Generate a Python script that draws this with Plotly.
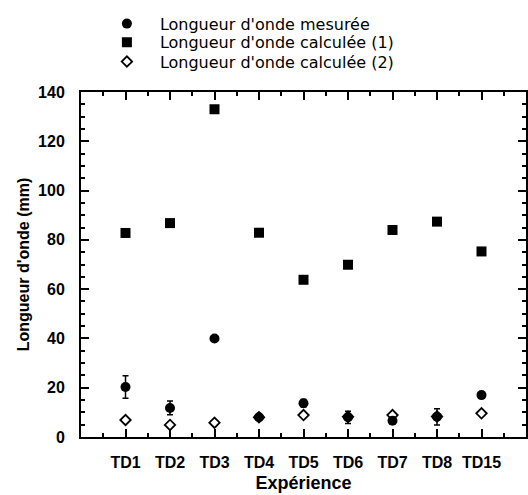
import plotly.graph_objects as go

categories = ["TD1", "TD2", "TD3", "TD4", "TD5", "TD6", "TD7", "TD8", "TD15"]
mesuree = [20.3, 11.8, 40.0, 8.0, 13.7, 8.0, 6.6, 8.2, 17.0]
mesuree_err = [4.6, 2.8, 0.0, 0.5, 1.5, 2.5, 0.5, 3.3, 0.5]
calc1 = [82.8, 86.8, 133.0, 82.9, 63.8, 69.9, 84.0, 87.4, 75.3]
calc1_err = [0.0, 0.0, 0.0, 0.0, 0.0, 1.2, 0.0, 1.2, 0.0]
calc2 = [6.9, 4.9, 5.8, 8.0, 8.9, 8.2, 8.9, 8.3, 9.6]

xpos = list(range(1, len(categories) + 1))
minor_x = [p - 0.5 for p in xpos] + [xpos[-1] + 0.5]

fig = go.Figure()
fig.add_trace(go.Scatter(
    x=xpos, y=mesuree, mode="markers", name="Longueur d'onde mesurée",
    marker=dict(symbol="circle", size=10, color="black"),
    error_y=dict(type="data", array=mesuree_err, color="black", thickness=1.5, width=3),
    legend="legend",
))
fig.add_trace(go.Scatter(
    x=xpos, y=calc1, mode="markers", name="Longueur d'onde calculée (1)",
    marker=dict(symbol="square", size=10, color="black"),
    error_y=dict(type="data", array=calc1_err, color="black", thickness=1.5, width=3),
    legend="legend2",
))
fig.add_trace(go.Scatter(
    x=xpos, y=calc2, mode="markers", name="Longueur d'onde calculée (2)",
    marker=dict(symbol="diamond-open", size=8, color="black", line=dict(width=1.8)),
    legend="legend3",
))

bold = dict(family="Liberation Sans, Arial", color="black", weight="bold")

axis_common = dict(
    showline=True, linecolor="black", linewidth=2, mirror="ticks",
    ticks="inside", tickcolor="black", tickwidth=2, ticklen=8,
    showgrid=False, zeroline=False,
    tickfont=dict(size=16, **bold),
)

fig.update_xaxes(
    **axis_common,
    range=[0, len(categories) + 1],
    tickmode="array", tickvals=xpos, ticktext=categories,
    ticklabelstandoff=10,
    minor=dict(tickmode="array", tickvals=minor_x, ticks="inside", ticklen=4,
               tickwidth=2, tickcolor="black", showgrid=False),
    title=dict(text="Expérience", standoff=6, font=dict(size=18, **bold)),
)
fig.update_yaxes(
    **axis_common,
    range=[0, 140], dtick=20, tick0=0,
    ticklabelstandoff=11,
    minor=dict(dtick=5, ticks="inside", ticklen=4, tickwidth=2, tickcolor="black", showgrid=False),
    title=dict(text="Longueur d'onde (mm)", standoff=4, font=dict(size=16, **bold)),
)

leg_font = dict(family="DejaVu Sans", size=16, color="black")
leg_common = dict(x=0.029, xanchor="left", yanchor="middle", font=leg_font,
                  bgcolor="rgba(0,0,0,0)", itemwidth=56, borderwidth=0)

fig.update_layout(
    width=528, height=495,
    margin=dict(l=81, r=2, t=92, b=58, autoexpand=False),
    plot_bgcolor="white", paper_bgcolor="white",
    showlegend=True,
    legend=dict(y=1.198, **leg_common),
    legend2=dict(y=1.144, **leg_common),
    legend3=dict(y=1.088, **leg_common),
)

fig.write_html(
    "out.html",
    config={"displayModeBar": False},
    post_script="document.body.style.margin='0px';document.body.style.overflow='hidden';",
)
